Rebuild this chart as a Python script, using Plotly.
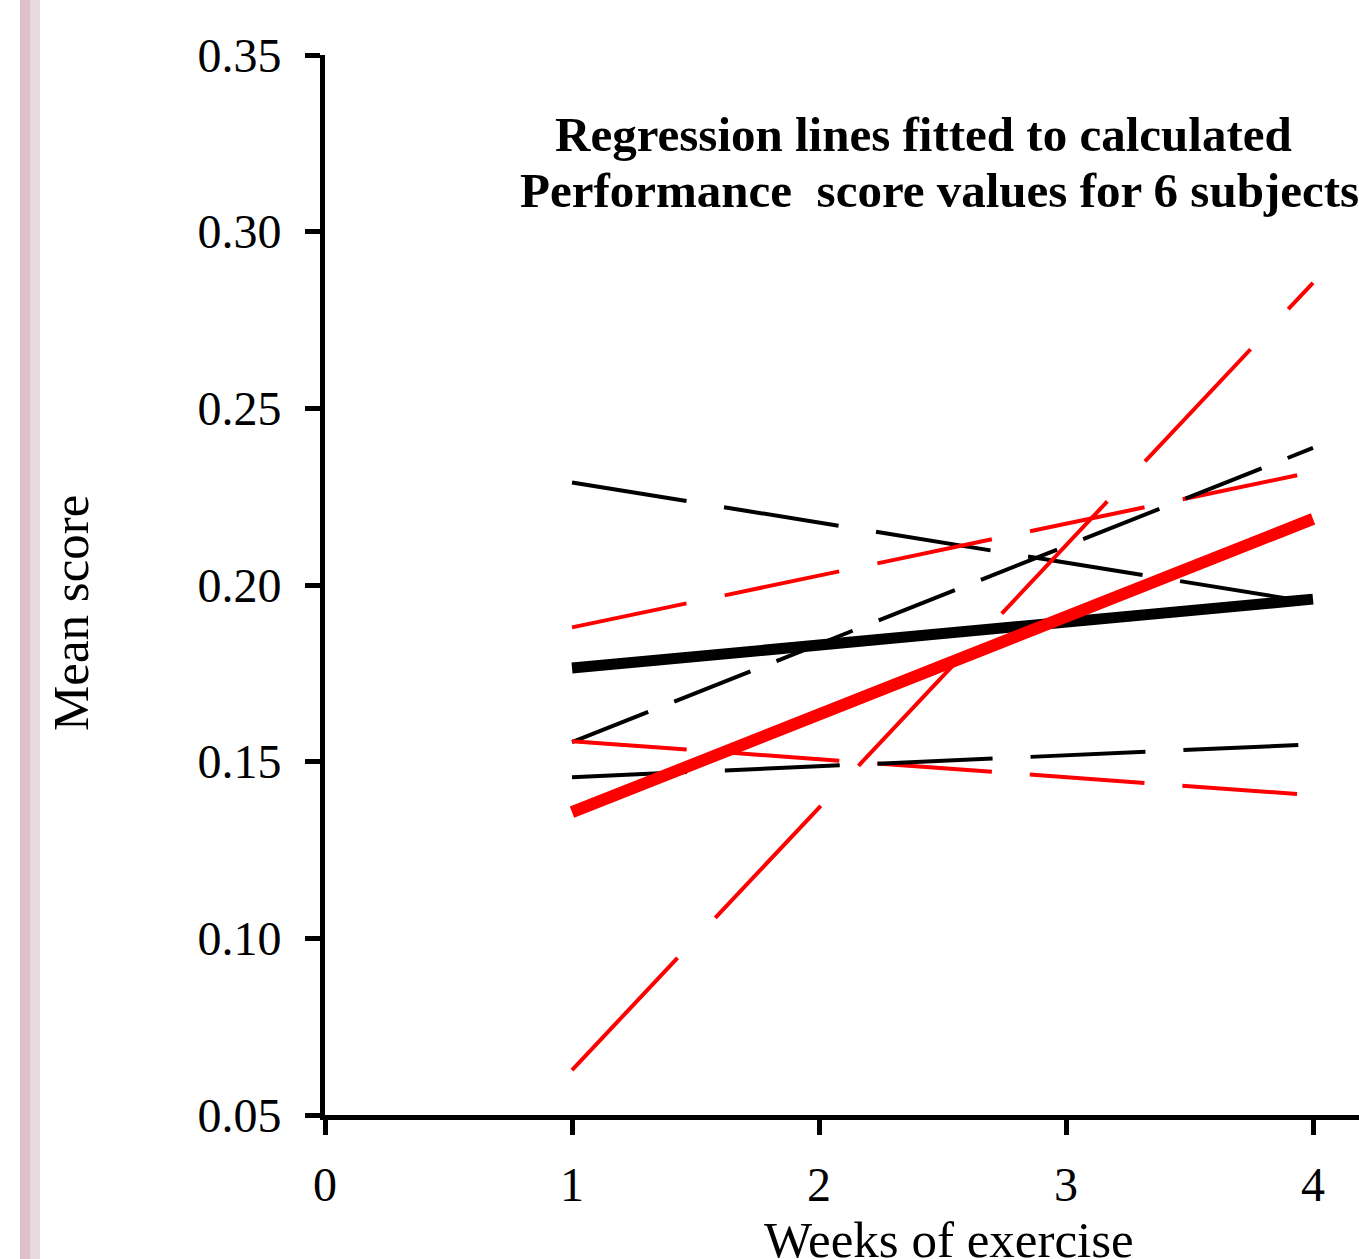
import plotly.graph_objects as go

# ---- data ----
weeks = [1, 4]
x_ticks = [0, 1, 2, 3, 4]
y_ticks = [0.05, 0.10, 0.15, 0.20, 0.25, 0.30, 0.35]
y_tick_text = ["0.05", "0.10", "0.15", "0.20", "0.25", "0.30", "0.35"]

subj_a = [0.229, 0.195]    # black long dash, falling
subj_b = [0.188, 0.232]    # red long dash, rising
subj_c = [0.1555, 0.2388]  # black dash, rising
subj_d = [0.1558, 0.1405]  # red long dash, falling
subj_e = [0.1456, 0.1549]  # black long dash, flat
subj_f = [0.0627, 0.2855]  # red long dash, steep
mean_black = [0.1765, 0.196]
mean_red = [0.1357, 0.2187]

title_line1 = "Regression lines fitted to calculated"
title_line2 = "Performance\u00a0\u00a0score values for 6 subjects"
x_title = "Weeks of exercise"
y_title = "Mean score"

FONT = "Liberation Serif, Times New Roman, serif"
RED = "#ff0000"
BLACK = "#000000"

fig = go.Figure()

thin = [
    (subj_a, BLACK, "116px,38px"),
    (subj_b, RED, "117px,39px"),
    (subj_c, BLACK, "82px,28px"),
    (subj_d, RED, "115px,38px"),
    (subj_e, BLACK, "115px,38px"),
    (subj_f, RED, "154px,55px"),
]
for vals, col, dash in thin:
    fig.add_trace(go.Scatter(x=weeks, y=vals, mode="lines",
                             line=dict(color=col, width=4, dash=dash),
                             showlegend=False, hoverinfo="skip"))

fig.add_trace(go.Scatter(x=weeks, y=mean_black, mode="lines",
                         line=dict(color=BLACK, width=11),
                         showlegend=False, hoverinfo="skip"))
fig.add_trace(go.Scatter(x=weeks, y=mean_red, mode="lines",
                         line=dict(color=RED, width=12),
                         showlegend=False, hoverinfo="skip"))

W, H = 1359, 1259
L, R, T, B = 325, 0, 55, 144
px_per_x = 247.0
x_max = (W - L) / px_per_x

fig.update_layout(
    width=W, height=H,
    margin=dict(l=L, r=R, t=T, b=B, pad=0),
    paper_bgcolor="white", plot_bgcolor="white",
    font=dict(family=FONT, color="black", size=48),
    xaxis=dict(range=[0, x_max], tickvals=x_ticks, ticktext=[str(v) for v in x_ticks],
               showgrid=False, zeroline=False, showline=True, linecolor="black",
               linewidth=5, ticks="outside", ticklen=15, tickwidth=5, tickcolor="black",
               tickfont=dict(family=FONT, size=48), ticklabelstandoff=8),
    yaxis=dict(range=[0.05, 0.35], tickvals=y_ticks, ticktext=y_tick_text,
               showgrid=False, zeroline=False, showline=True, linecolor="black",
               linewidth=5, ticks="outside", ticklen=15, tickwidth=5, tickcolor="black",
               tickfont=dict(family=FONT, size=48), ticklabelstandoff=14),
    showlegend=False,
)

# pink vertical bar at the left edge (slide decoration)
pw = W - L - R
ph = H - T - B

def px_x(p):
    return (p - L) / pw

def px_y(p):
    return 1 - (p - T) / ph

fig.add_shape(type="rect", xref="paper", yref="paper",
              x0=px_x(20), x1=px_x(30), y0=-1, y1=2,
              fillcolor="#dcc2c8", line=dict(width=0), layer="below")
fig.add_shape(type="rect", xref="paper", yref="paper",
              x0=px_x(30), x1=px_x(40), y0=-1, y1=2,
              fillcolor="#e9d9dc", line=dict(width=0), layer="below")

fig.add_annotation(text=title_line1, xref="paper", yref="paper",
                   x=px_x(553), y=px_y(134), xanchor="left", yanchor="middle",
                   showarrow=False,
                   font=dict(family=FONT, size=49, color="black", weight="bold"))
fig.add_annotation(text=title_line2, xref="paper", yref="paper",
                   x=px_x(518), y=px_y(190), xanchor="left", yanchor="middle",
                   showarrow=False,
                   font=dict(family=FONT, size=49, color="black", weight="bold"))
fig.add_annotation(text=x_title, xref="paper", yref="paper",
                   x=px_x(949), y=px_y(1240), xanchor="center", yanchor="middle",
                   showarrow=False, font=dict(family=FONT, size=51, color="black"))
fig.add_annotation(text=y_title, xref="paper", yref="paper",
                   x=px_x(71), y=px_y(613), xanchor="center", yanchor="middle",
                   textangle=-90, showarrow=False,
                   font=dict(family=FONT, size=51, color="black"))

fig.write_html("out.html")
